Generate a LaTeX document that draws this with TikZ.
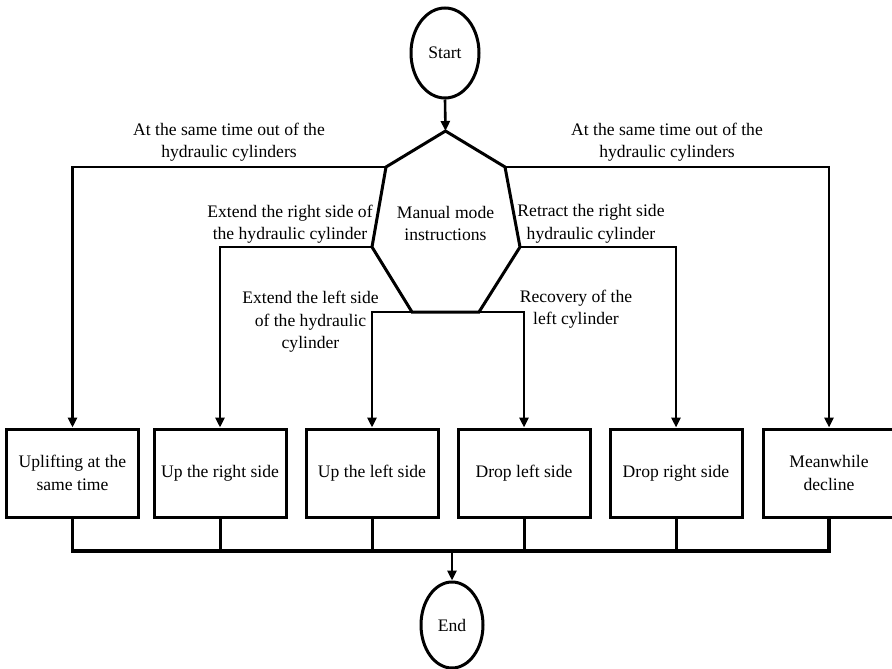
\documentclass[tikz,border=0pt]{standalone}
\usepackage{fontspec}
\setmainfont{Liberation Serif}
\usetikzlibrary{arrows.meta,shapes.geometric}
\begin{document}
\begin{tikzpicture}[x=1pt,y=-1pt,
  line width=3pt,
  every node/.style={font=\fontsize{17.6}{22.5}\selectfont, align=center},
  arr/.style={-{Triangle[length=10pt,width=9pt]}, line width=2.6pt},
  oval/.style={draw, ellipse, inner sep=0pt},
  actbox/.style={draw, minimum width=132pt, minimum height=88pt, inner sep=2pt},
  lbl/.style={inner sep=0pt},
  busline/.style={line width=3.5pt, line join=miter}]
\useasboundingbox (0,0) rectangle (892,669);

% start / end
\node[oval, minimum width=68pt, minimum height=90pt] (start) at (445,53) {Start};
\node[oval, minimum width=62pt, minimum height=86pt] (end) at (452,625) {End};

% heptagon
\coordinate (T) at (445.5,131);
\coordinate (UL) at (386,167);
\coordinate (UR) at (505,167);
\coordinate (ML) at (372,247);
\coordinate (MR) at (520,247);
\coordinate (BL) at (412,312);
\coordinate (BR) at (479,312);
\draw[line join=miter] (T) -- (UR) -- (MR) -- (BR) -- (BL) -- (ML) -- (UL) -- cycle;
\node[lbl] (manual) at (445.5,223.5) {Manual mode\\instructions};

% boxes
\node[actbox] (b1) at (72.5,473) {Uplifting at the\\same time};
\node[actbox] (b2) at (220,473) {Up the right side};
\node[actbox] (b3) at (372,473) {Up the left side};
\node[actbox] (b4) at (524,473) {Drop left side};
\node[actbox] (b5) at (676,473) {Drop right side};
\node[actbox] (b6) at (829,473) {Meanwhile\\decline};

% labels
\node[lbl] (l1) at (229,142) {At the same time out of the\\hydraulic cylinders};
\node[lbl] (l2) at (667,142) {At the same time out of the\\hydraulic cylinders};
\node[lbl] (l3) at (290,224) {Extend the right side of\\the hydraulic cylinder};
\node[lbl] (l4) at (591,224) {Retract the right side\\hydraulic cylinder};
\node[lbl] (l5) at (310.5,322) {Extend the left side\\of the hydraulic\\cylinder};
\node[lbl] (l6) at (576,309) {Recovery of the\\left cylinder};

% connectors
\draw[arr] (start.south) -- (T);
\draw[arr] (UL) -| (b1.north);
\draw[arr] (UR) -| (b6.north);
\draw[arr] (ML) -| (b2.north);
\draw[arr] (MR) -| (b5.north);
\draw[arr] (BL) -| (b3.north);
\draw[arr] (BR) -| (b4.north);

% bus
\coordinate (bus) at (452,551);
\draw[busline] (b1.south) -- (b1.south |- bus) -- (b6.south |- bus) -- (b6.south);
\draw (b2.south) -- (b2.south |- bus);
\draw (b3.south) -- (b3.south |- bus);
\draw (b4.south) -- (b4.south |- bus);
\draw (b5.south) -- (b5.south |- bus);
\draw[arr] (bus) -- (end.north);
\end{tikzpicture}
\end{document}
